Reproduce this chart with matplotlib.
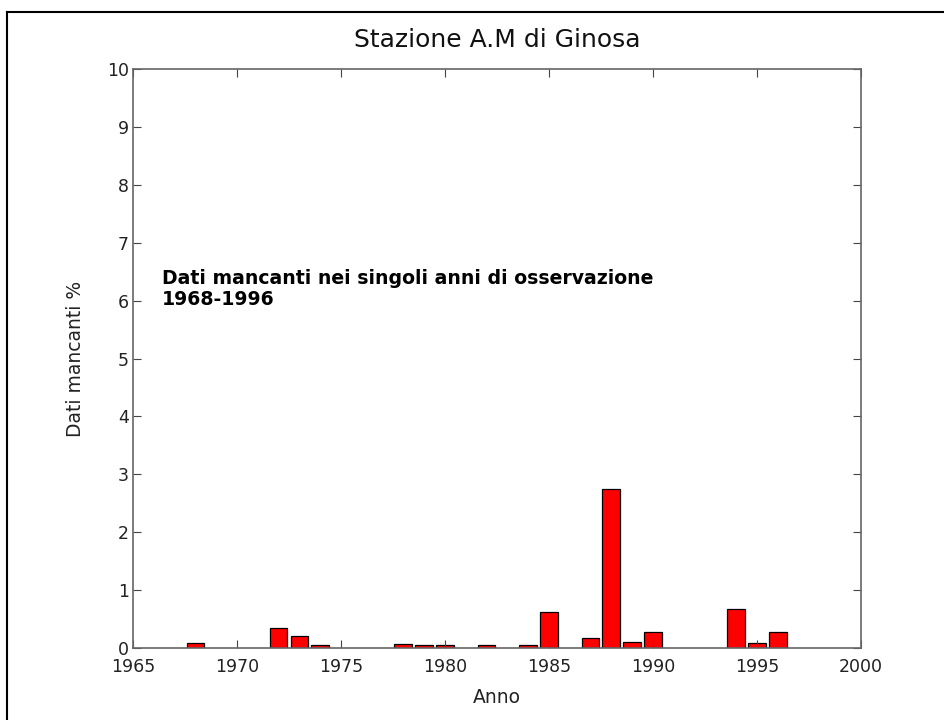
import matplotlib.pyplot as plt
from matplotlib.lines import Line2D

# === Dati ===
anni = [1968, 1972, 1973, 1974, 1978, 1979, 1980, 1982, 1984, 1985,
        1987, 1988, 1989, 1990, 1994, 1995, 1996]
mancanti = [0.08, 0.35, 0.21, 0.05, 0.07, 0.05, 0.05, 0.05, 0.05, 0.62,
            0.17, 2.74, 0.11, 0.28, 0.68, 0.08, 0.28]
xticks = [1965, 1970, 1975, 1980, 1985, 1990, 1995, 2000]
yticks = list(range(0, 11))

plt.rcParams['font.family'] = ['DejaVu Sans']

fig = plt.figure(figsize=(9.45, 7.2), dpi=100)
# bordo in alto e a sinistra (come nello screenshot)
fig.add_artist(Line2D([0.0075, 1.0], [0.983, 0.983], color='black', lw=1.5))
fig.add_artist(Line2D([0.0075, 0.0075], [0.0, 0.983], color='black', lw=1.5))

ax = fig.add_axes([0.1407, 0.1, 0.7703, 0.804])

ax.bar(anni, mancanti, width=0.85, color='#ff0000', edgecolor='black', linewidth=0.9)

ax.set_xlim(1965, 2000)
ax.set_ylim(0, 10)
ax.set_xticks(xticks)
ax.set_yticks(yticks)
ax.tick_params(direction='in', top=True, right=True, labelsize=12.5, length=6,
               width=0.8, colors='#444444', labelcolor='#222222', pad=3)
ax.tick_params(axis='x', pad=7)
for s in ax.spines.values():
    s.set_linewidth(1.2)
    s.set_color('#666666')

ax.set_title("Stazione A.M di Ginosa", fontsize=18, pad=16, color='#111111')
ax.set_xlabel("Anno", fontsize=13.5, labelpad=9, color='#222222')
ax.set_ylabel("Dati mancanti %", fontsize=13.5, labelpad=16, color='#222222')

ax.text(1966.4, 6.55, "Dati mancanti nei singoli anni di osservazione\n1968-1996",
        fontsize=13.6, fontweight='bold', va='top', ha='left', linespacing=1.15)

fig.savefig("out.png", dpi=100)
